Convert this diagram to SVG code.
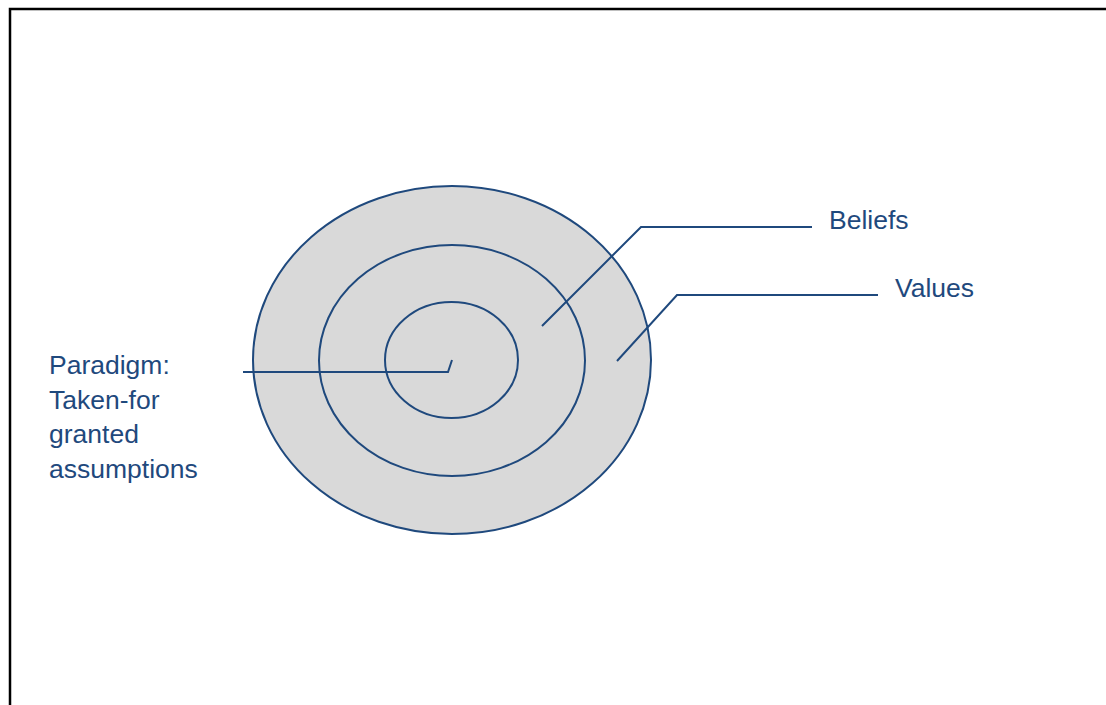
<svg xmlns="http://www.w3.org/2000/svg" width="1106" height="705" viewBox="0 0 1106 705">
<style>
.ring{fill:#D9D9D9;stroke:#1F497D;stroke-width:2}
.ring2{fill:none;stroke:#1F497D;stroke-width:2}
.lead{fill:none;stroke:#1F497D;stroke-width:2}
.lbl{font-family:"Liberation Sans",Arial,sans-serif;font-size:26.5px;fill:#1F497D}
</style>
<rect width="1106" height="705" fill="#fff"/>
<path d="M10 705 L10 9 L1106 9" fill="none" stroke="#000" stroke-width="2.5"/>
<g id="values-ring"><ellipse class="ring" cx="452" cy="360" rx="199" ry="174"/></g>
<g id="beliefs-ring"><ellipse class="ring2" cx="452" cy="360.5" rx="133" ry="115.5"/></g>
<g id="paradigm-ring"><ellipse class="ring2" cx="451.5" cy="360" rx="66.5" ry="58"/></g>
<g id="connectors">
<path class="lead" d="M243 372 L448 372 L452 360"/>
<path class="lead" d="M542 326 L641 227 L812 227"/>
<path class="lead" d="M617 361 L677 295 L878 295"/>
</g>
<g id="label-beliefs"><text class="lbl" x="829" y="229">Beliefs</text></g>
<g id="label-values"><text class="lbl" x="895" y="297">Values</text></g>
<g id="label-paradigm">
<text class="lbl" x="49" y="374">Paradigm:</text>
<text class="lbl" x="49" y="409">Taken-for</text>
<text class="lbl" x="49" y="443">granted</text>
<text class="lbl" x="49" y="478">assumptions</text>
</g>
</svg>
